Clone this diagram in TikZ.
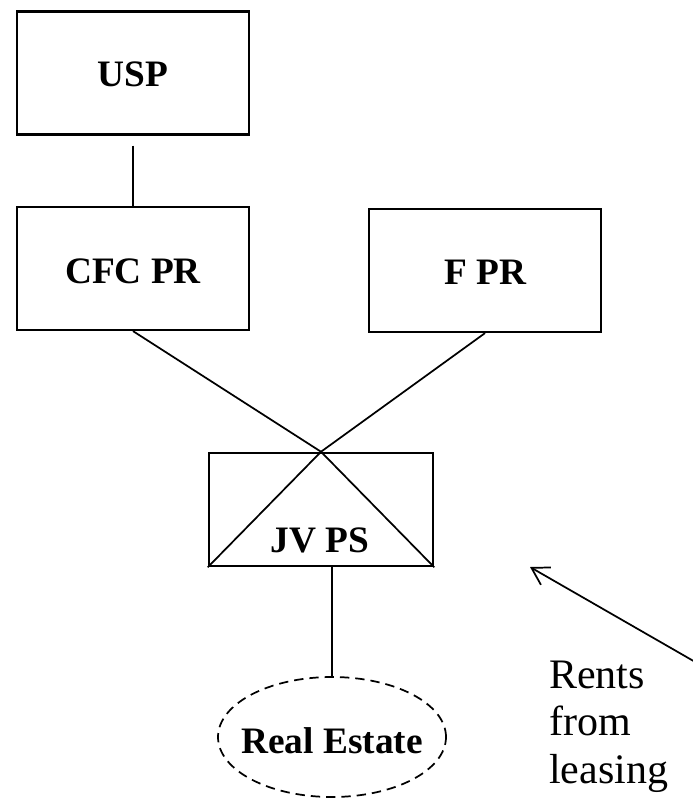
\documentclass[tikz,border=0pt]{standalone}
\usepackage{fontspec}
\setmainfont{Liberation Serif}
\usetikzlibrary{arrows.meta,shapes.geometric}
\begin{document}
\begin{tikzpicture}[x=0.75pt,y=-0.75pt,
  box/.style={draw,line width=1.9pt,rectangle,inner sep=0pt,minimum width=174pt,minimum height=92pt},
  lbl/.style={anchor=base,inner sep=0pt,font=\fontsize{28}{33}\selectfont\bfseries},
  conn/.style={line width=1.3pt},
  vconn/.style={line width=2pt}]
\useasboundingbox (0,0) rectangle (692,799);
\node[box] (usp) at (133,73) {};
\node[box] (cfc) at (133,268.5) {};
\node[box] (fpr) at (485,270.5) {};
\node[box,minimum width=168pt,minimum height=84.75pt] (jv) at (321,509.5) {};
\node[draw,ellipse,dashed,line width=1.3pt,dash pattern=on 7pt off 4.5pt,inner sep=0pt,minimum width=171pt,minimum height=90pt] (re) at (332,737) {};
\node[lbl] (uspt) at (133,87) {USP};
\node[lbl] (cfct) at (133,283) {CFC PR};
\node[lbl] (fprt) at (485,284) {F PR};
\node[lbl] (jvt) at (320,552) {JV PS};
\node[lbl] (ret) at (332,753) {Real Estate};
\node[anchor=base west,inner sep=0pt,align=left,font=\fontsize{31.5}{35.6}\selectfont] (rents) at (549,783) {Rents\\from\\leasing};
\draw[vconn] ([yshift=-7.5pt]usp.south) -- (cfc.north);
\draw[conn] (cfc.south) -- (jv.north);
\draw[conn] (fpr.south) -- (jv.north);
\draw[conn] (jv.north) -- (jv.south west);
\draw[conn] (jv.north) -- (jv.south east);
\draw[vconn] (jv.south -| re.north) -- (re.north);
\coordinate (arrstart) at (697,663);
\coordinate (arrtip) at (530,567);
\draw[conn,-{Straight Barb[length=12.5pt,width=15pt,line width=1.3pt]}] (arrstart) -- (arrtip);
\end{tikzpicture}
\end{document}
